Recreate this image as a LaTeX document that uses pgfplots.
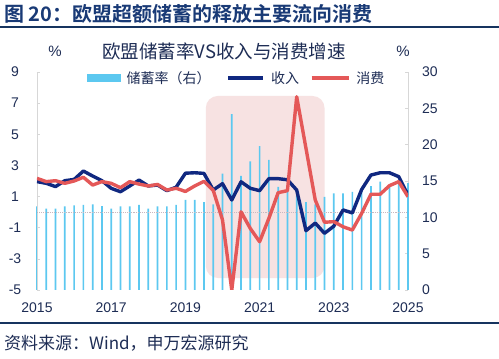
\documentclass[border=0pt]{standalone}
\usepackage{fontspec}
\setmainfont{Liberation Sans}
\newfontfamily\cjk{Noto Sans CJK SC}
\newfontfamily\cjkb{Noto Sans CJK SC Bold}
\usepackage{pgfplots}
\pgfplotsset{compat=1.18}
\usepackage{pgfplotstable}

\definecolor{barcol}{RGB}{92,200,240}
\definecolor{inccol}{RGB}{16,40,128}
\definecolor{concol}{RGB}{228,88,88}
\definecolor{shadecol}{RGB}{247,226,226}
\definecolor{txt}{RGB}{30,45,85}
\definecolor{hdr}{RGB}{25,58,118}
\definecolor{rulecol}{RGB}{22,52,95}
\definecolor{axgray}{RGB}{215,215,215}
\definecolor{zerocol}{RGB}{200,185,192}

\pgfplotstableread{
i save inc con
0 11.5 1.96 2.17
1 11.2 1.85 1.96
2 11.2 1.64 2.02
3 11.5 2.02 1.85
4 11.65 2.10 2.00
5 11.7 2.64 2.24
6 11.8 2.32 1.74
7 11.55 2.02 1.96
8 11.2 1.53 1.85
9 11.5 1.31 1.57
10 11.5 1.68 1.96
11 11.7 2.06 1.80
12 11.2 1.68 1.68
13 11.5 1.74 1.78
14 11.5 1.38 1.42
15 11.7 1.60 1.53
16 12.4 2.50 1.33
17 12.4 2.53 1.68
18 12.1 2.49 1.98
19 11.8 1.42 1.40
20 16.0 1.83 -0.50
21 24.2 0.78 -5.00
22 15.7 1.95 0.02
23 17.7 1.53 -1.05
24 19.8 1.38 -1.90
25 17.9 2.15 -0.40
26 14.2 2.15 1.25
27 13.7 2.08 1.38
28 13.0 1.42 7.41
29 12.1 -1.19 4.10
30 11.8 -0.70 0.78
31 12.8 -1.36 -0.65
32 13.3 -0.90 -0.61
33 13.3 0.14 -0.94
34 13.5 -0.05 -1.15
35 14.0 1.45 -0.08
36 14.3 2.38 1.15
37 14.9 2.53 1.15
38 14.4 2.53 1.70
39 14.9 2.28 1.96
40 14.7 1.10 0.99
}\data

\begin{document}
\begin{tikzpicture}
\useasboundingbox (0,0) rectangle (499bp,359bp);
\fill[white] (0,0) rectangle (499bp,359bp);
% header
\node[anchor=west, inner sep=0, text=hdr, font=\cjkb\fontsize{20bp}{21bp}\selectfont] at (4bp,345bp) {图 20：欧盟超额储蓄的释放主要流向消费};
\draw[rulecol, line width=2.2bp] (0,332bp) -- (499bp,332bp);
\draw[rulecol, line width=2bp] (0,36bp) -- (499bp,36bp);
\node[anchor=west, inner sep=0, text=txt, font=\cjk\fontsize{17bp}{18bp}\selectfont] at (4bp,16bp) {资料来源：Wind，申万宏源研究};
% chart title and units
\node[inner sep=0, text=txt, font=\cjk\fontsize{18.5bp}{20bp}\selectfont] at (224bp,307.5bp) {欧盟储蓄率VS收入与消费增速};
\node[inner sep=0, text=txt, font=\fontsize{15bp}{16bp}\selectfont] at (55bp,308bp) {\%};
\node[inner sep=0, text=txt, font=\fontsize{15bp}{16bp}\selectfont] at (403bp,308bp) {\%};

% right axis: saving rate bars
\begin{axis}[
  at={(37bp,69bp)}, anchor=south west,
  scale only axis, width=371bp, height=218bp,
  xmin=0, xmax=40, ymin=0, ymax=30,
  axis y line*=right, axis x line=none,
  ytick={0,5,...,30},
  y axis line style={axgray, line width=0.8bp},
  ytick style={axgray, line width=0.6bp},
  tick align=inside, major tick length=3bp,
  yticklabel style={anchor=west, inner sep=0, xshift=14bp, text=txt, font=\fontsize{14bp}{16bp}\selectfont},
  /pgf/number format/assume math mode=true,
  clip=false,
]
\fill[shadecol, rounded corners=12bp] (axis cs:18.2,1.65) rectangle (axis cs:31.0,26.7);
\addplot[ybar, bar width=1.7bp, fill=barcol, draw=none] table[x=i, y=save] {\data};
\end{axis}

% left axis: income and consumption
\begin{axis}[
  at={(37bp,69bp)}, anchor=south west,
  scale only axis, width=371bp, height=218bp,
  xmin=0, xmax=40, ymin=-5, ymax=9,
  axis y line*=left, axis x line*=bottom,
  x axis line style={draw=none},
  xtick={0,8,16,24,32,40},
  xticklabels={2015,2017,2019,2021,2023,2025},
  xtick style={draw=none},
  ytick={-5,-3,...,9},
  y axis line style={axgray, line width=0.8bp},
  ytick style={axgray, line width=0.6bp},
  tick align=inside, major tick length=3bp,
  yticklabel style={anchor=center, inner sep=0, xshift=-22bp, text=txt, font=\fontsize{14bp}{16bp}\selectfont},
  xticklabel style={anchor=center, inner sep=0, yshift=-18bp, text=txt, font=\fontsize{14bp}{16bp}\selectfont},
  /pgf/number format/assume math mode=true,
  legend columns=3,
  legend style={at={(0.1348,0.9725)}, anchor=west, draw=none, fill=none, inner sep=0,
    nodes={inner sep=0, text=txt, font=\cjk\fontsize{14bp}{15bp}\selectfont},
    /tikz/every odd column/.style={column sep=6bp},
    /tikz/every even column/.style={column sep=0pt}},
  legend cell align=left,
]
\addlegendimage{legend image code/.code={\fill[barcol] (0bp,-3.5bp) rectangle (33bp,3.5bp);}}
\addlegendentry{储蓄率（右）\hspace*{16bp}}
\draw[zerocol, densely dotted, line width=1.1bp] (axis cs:0,0) -- (axis cs:40,0);
\addplot[inccol, line width=3.4bp, line join=round, no marks,
  legend image code/.code={\draw[inccol, line width=3.4bp] (0bp,0bp) -- (35bp,0bp);}]
  table[x=i, y=inc] {\data};
\addlegendentry{收入\hspace*{11bp}}
\addplot[concol, line width=3.4bp, line join=round, no marks,
  legend image code/.code={\draw[concol, line width=3.4bp] (0bp,0bp) -- (37bp,0bp);}]
  table[x=i, y=con] {\data};
\addlegendentry{消费}
\end{axis}
\end{tikzpicture}
\end{document}
